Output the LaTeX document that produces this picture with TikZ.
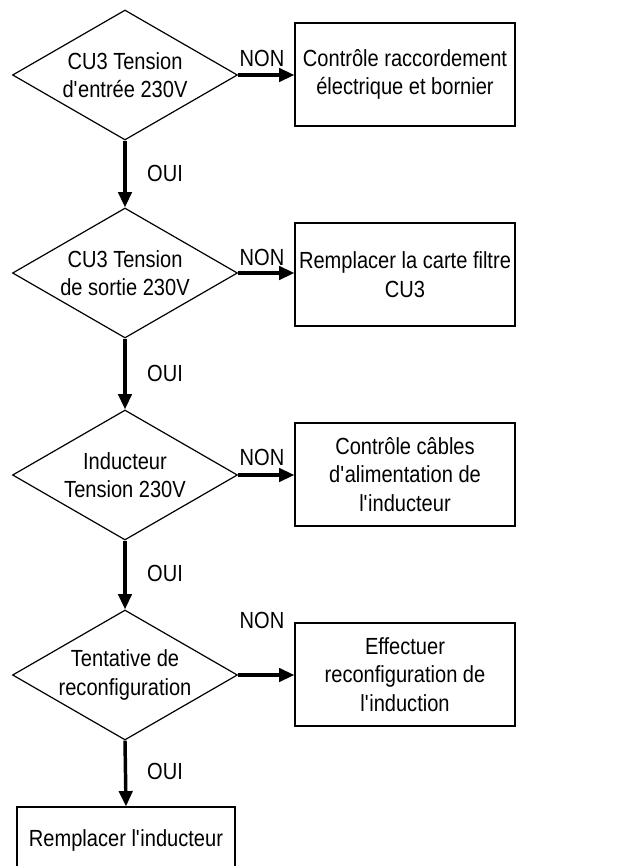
\documentclass[tikz,border=0pt]{standalone}
\usepackage{fontspec}
\setmainfont{Liberation Sans}[FakeStretch=0.86]
\usetikzlibrary{arrows.meta, positioning, shapes.geometric}

\newcommand{\ap}{\textquotesingle}

\begin{document}
\begin{tikzpicture}[x=0.75pt, y=-0.75pt, >={Triangle[length=11.5pt, width=10pt]},
  every node/.style={font=\fontsize{17.5}{21.5}\selectfont},
  test/.style={diamond, draw, line width=0.9pt, aspect=1.73, inner sep=0pt,
    minimum width=168.75pt, minimum height=97.5pt, align=center},
  action/.style={rectangle, draw, line width=0.9pt, inner sep=0pt,
    minimum width=165pt, minimum height=77.25pt, align=center},
  flow/.style={->, line width=2.6pt},
  lbl/.style={inner sep=0pt}]

\clip (0, 0) rectangle (637, 866);

\pgfmathsetmacro{\xt}{125}
\pgfmathsetmacro{\xa}{405}

% tests
\node[test] (t1) at (\xt, 75)  {CU3 Tension\\d\ap entr\'ee 230V};
\node[test] (t2) at (\xt, 273) {CU3 Tension\\de sortie 230V};
\node[test] (t3) at (\xt, 475) {Inducteur\\Tension 230V};
\node[test] (t4) at (\xt, 675) {Tentative de\\reconfiguration};

% actions
\node[action] (a1) at (\xa, 74.5)  {Contr\^ole raccordement\\\'electrique et bornier};
\node[action] (a2) at (\xa, 274.5) {Remplacer la carte filtre\\CU3};
\node[action] (a3) at (\xa, 474.5) {Contr\^ole c\^ables\\d\ap alimentation de\\l\ap inducteur};
\node[action] (a4) at (\xa, 674.5) {Effectuer\\reconfiguration de\\l\ap induction};
\node[action, minimum width=163.5pt, minimum height=49.5pt] (a5) at (126, 840) {Remplacer l\ap inducteur};

% NON
\draw[flow] (t1.east) -- (t1.east -| a1.west);
\draw[flow] (t2.east) -- (t2.east -| a2.west);
\draw[flow] (t3.east) -- (t3.east -| a3.west);
\draw[flow] (t4.east) -- (t4.east -| a4.west);

\node[lbl] (n1) at (262, 58)  {NON};
\node[lbl] (n2) at (262, 257) {NON};
\node[lbl] (n3) at (262, 457) {NON};
\node[lbl] (n4) at (262, 620) {NON};

% OUI
\draw[flow] (t1.south) -- (t2.north);
\draw[flow] (t2.south) -- (t3.north);
\draw[flow] (t3.south) -- (t4.north);
\draw[flow] (t4.south) -- (a5.north);

\node[lbl] (o1) at (165, 173) {OUI};
\node[lbl] (o2) at (165, 373) {OUI};
\node[lbl] (o3) at (165, 573) {OUI};
\node[lbl] (o4) at (165, 771) {OUI};

\end{tikzpicture}
\end{document}
